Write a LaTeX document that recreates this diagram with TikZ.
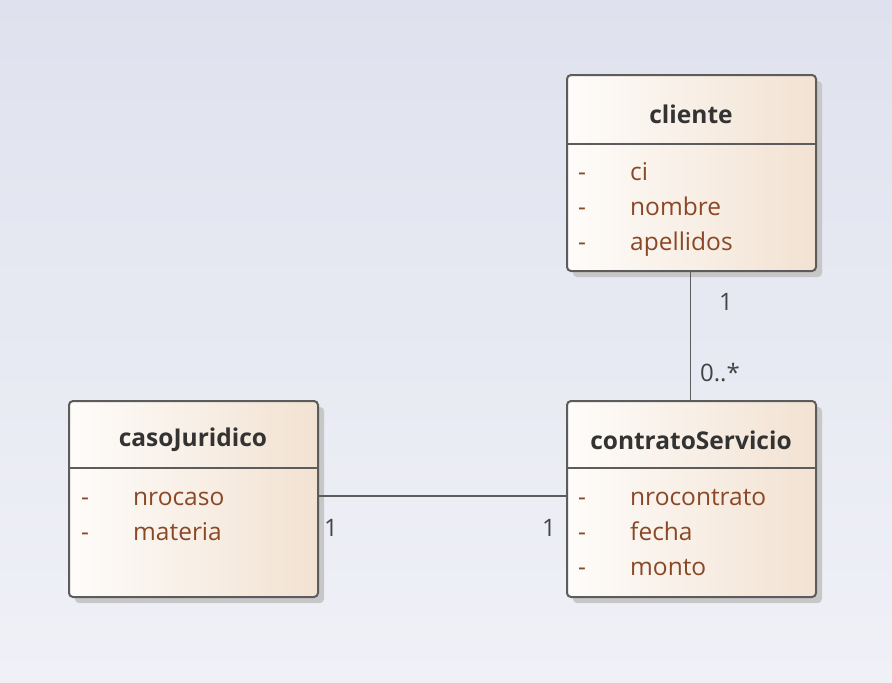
\documentclass[tikz,border=0pt]{standalone}
\usepackage{fontspec}
\setmainfont{Open Sans}
\usetikzlibrary{shadows}
\definecolor{bgtop}{RGB}{223,226,238}
\definecolor{bgbot}{RGB}{240,241,247}
\definecolor{boxl}{RGB}{254,252,250}
\definecolor{boxr}{RGB}{242,226,210}
\definecolor{edge}{RGB}{92,92,92}
\definecolor{attr}{RGB}{139,72,38}
\definecolor{hdr}{RGB}{51,51,51}
\definecolor{lbl}{RGB}{68,68,68}
\tikzset{
  classbox/.style={draw=edge, line width=2pt, rounded corners=4pt, anchor=north west,
    minimum width=249pt, minimum height=196pt, inner sep=0pt,
    left color=boxl, right color=boxr,
    drop shadow={shadow xshift=6pt, shadow yshift=-6pt, fill=black!22, opacity=1}},
  sep/.style={draw=edge, line width=1.8pt},
  title/.style={font=\fontsize{24.5}{28}\selectfont\bfseries, text=hdr, anchor=center},
  attrtxt/.style={font=\fontsize{24.5}{28}\selectfont, text=attr, anchor=base west, inner sep=0pt},
  mult/.style={font=\fontsize{24}{28}\selectfont, text=lbl, anchor=base},
  assoc/.style={draw=edge, line width=1.8pt}
}
\begin{document}
\begin{tikzpicture}[x=1pt,y=-1pt]
\useasboundingbox (0,0) rectangle (892,683);
\shade[top color=bgtop, bottom color=bgbot] (0,0) rectangle (892,683);

% cliente
\node[classbox] (cli) at (566,74) {};
\draw[sep] ([yshift=-70pt]cli.north west) -- ([yshift=-70pt]cli.north east);
\node[title] (clit) at (691,114) {cliente};
\node[attrtxt] (c1d) at (578,180) {-};
\node[attrtxt] (c1) at (630,180) {ci};
\node[attrtxt] (c2d) at (578,215) {-};
\node[attrtxt] (c2) at (630,215) {nombre};
\node[attrtxt] (c3d) at (578,250) {-};
\node[attrtxt] (c3) at (630,250) {apellidos};

% casoJuridico
\node[classbox] (caso) at (68,400) {};
\draw[sep] ([yshift=-68pt]caso.north west) -- ([yshift=-68pt]caso.north east);
\node[title] (casot) at (193,440) {casoJuridico};
\node[attrtxt] (k1d) at (81,505) {-};
\node[attrtxt] (k1) at (133,505) {nrocaso};
\node[attrtxt] (k2d) at (81,540) {-};
\node[attrtxt] (k2) at (133,540) {materia};

% contratoServicio
\node[classbox] (con) at (566,400) {};
\draw[sep] ([yshift=-68pt]con.north west) -- ([yshift=-68pt]con.north east);
\node[title] (cont) at (691,440) {contratoServicio};
\node[attrtxt] (n1d) at (578,505) {-};
\node[attrtxt] (n1) at (630,505) {nrocontrato};
\node[attrtxt] (n2d) at (578,540) {-};
\node[attrtxt] (n2) at (630,540) {fecha};
\node[attrtxt] (n3d) at (578,575) {-};
\node[attrtxt] (n3) at (630,575) {monto};

% associations
\draw[assoc] ([xshift=-1pt]cli.south) -- ([xshift=-1pt]con.north);
\draw[assoc] ([yshift=3pt]caso.east) -- ([yshift=3pt]con.west);
\node[mult] (m1) at (726,310) {1};
\node[mult] (m2) at (720,381) {0..*};
\node[mult] (m3) at (331,536) {1};
\node[mult] (m4) at (549,536) {1};
\end{tikzpicture}
\end{document}
